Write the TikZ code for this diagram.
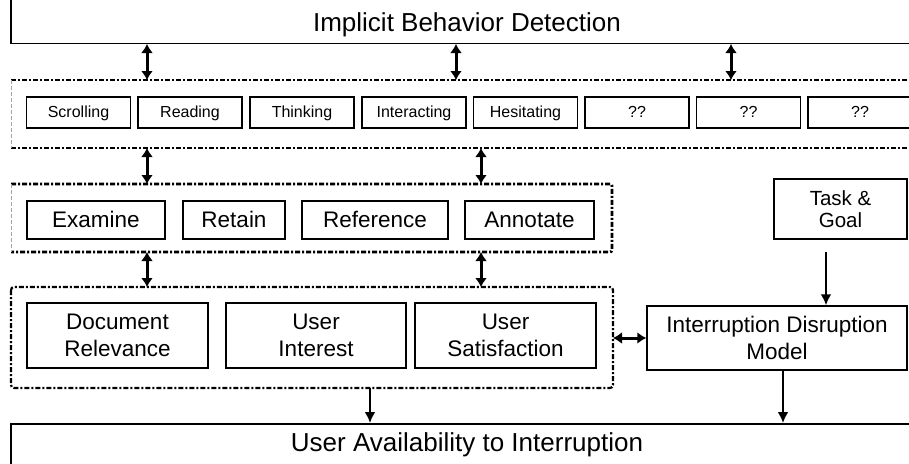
\documentclass[tikz,border=0pt]{standalone}
\usepackage{fontspec}
\setmainfont{Liberation Sans}
\usetikzlibrary{arrows.meta,calc}
\tikzset{
  sbox/.style={draw, line width=1.5pt, minimum width=104pt, minimum height=31pt, inner sep=0pt, text height=11.5pt, text depth=1.5pt, font=\fontsize{16}{18}\selectfont},
  abox/.style={draw, line width=1.5pt, minimum height=38pt, inner sep=0pt, text height=16.2pt, text depth=1.5pt, font=\fontsize{22.5}{26}\selectfont},
  rbox/.style={draw, line width=1.5pt, minimum height=65pt, inner sep=0pt, align=center, font=\fontsize{22.5}{27}\selectfont},
  bigbox/.style={draw, line width=1.5pt, inner sep=0pt},
  ghost/.style={inner sep=0pt, outer sep=0pt},
  ddline/.style={line width=2.8pt, dash pattern=on 5pt off 2pt on 2pt off 2pt},
  thinside/.style={line width=0.8pt, gray!70, dash pattern=on 4pt off 2pt},
  darrow/.style={line width=3pt, {Latex[length=9pt,width=12pt]}-{Latex[length=9pt,width=12pt]}},
  sarrow/.style={line width=2.4pt, -{Latex[length=11pt,width=11pt]}},
  bigtext/.style={font=\fontsize{26}{30}\selectfont}
}
\begin{document}
\begin{tikzpicture}[x=1pt,y=-1pt]
\useasboundingbox (0,0) rectangle (909,463);
\clip (0,0) rectangle (909,463);
\fill[white] (0,0) rectangle (909,463);

% top box
\node[bigbox, minimum width=912pt, minimum height=70pt, anchor=south] (ibd) at (467,44) {};
\node[bigtext] (ibdt) at (467,25) {Implicit Behavior Detection};

% behaviour container
\node[ghost, minimum width=920pt, minimum height=68pt, anchor=north west] (beh) at (11,80) {};
\draw[ddline] (beh.north west) -- (beh.north east);
\draw[ddline] (beh.south west) -- (beh.south east);
\draw[thinside] (beh.north west) -- (beh.south west);

\node[sbox] (scr) at (78.5,112.5) {Scrolling};
\node[sbox] (rea) at (190,112.5) {Reading};
\node[sbox] (thi) at (302,112.5) {Thinking};
\node[sbox] (int) at (414,112.5) {Interacting};
\node[sbox] (hes) at (525.5,112.5) {Hesitating};
\node[sbox] (q1) at (637,112.5) {??};
\node[sbox] (q2) at (748.5,112.5) {??};
\node[sbox] (q3) at (860,112.5) {??};

% activity container
\node[ghost, minimum width=601pt, minimum height=68pt, anchor=north west] (act) at (11,184) {};
\draw[ddline, rounded corners=2pt] (act.north west) -- (act.north east) -- (act.south east) -- (act.south west);
\draw[thinside] (act.north west) -- (act.south west);

\node[abox, minimum width=138pt] (exa) at (96,220) {Examine};
\node[abox, minimum width=102pt] (ret) at (234,220) {Retain};
\node[abox, minimum width=146pt] (ref) at (375,220) {Reference};
\node[abox, minimum width=129pt] (ann) at (529.5,220) {Annotate};

% relevance container
\node[ghost, minimum width=602pt, minimum height=101pt, anchor=north west] (rel) at (11,287) {};
\draw[ddline, line width=2.2pt, rounded corners=3pt] (rel.north west) rectangle (rel.south east);

\node[rbox, minimum width=181pt] (doc) at (117.5,335.5) {Document\\Relevance};
\node[rbox, minimum width=180pt] (uin) at (316,335.5) {User\\Interest};
\node[rbox, minimum width=181pt] (usa) at (505.5,335.5) {User\\Satisfaction};

% right side
\node[rbox, minimum width=133pt, minimum height=60pt, font=\fontsize{20.5}{22}\selectfont] (tg) at (840.5,209) {Task \&\\Goal};
\node[rbox, minimum width=260pt, minimum height=64pt] (idm) at (777,338) {Interruption Disruption\\Model};

% bottom box
\node[bigbox, minimum width=912pt, minimum height=80pt, anchor=north] (uai) at (467,423) {};
\node[bigtext] (uait) at (467,445) {User Availability to Interruption};

% connector x positions
\coordinate (xa) at (147,0);
\coordinate (xb) at (456,0);
\coordinate (xc) at (731,0);
\coordinate (xd) at (481,0);
\coordinate (xe) at (370,0);
\coordinate (xf) at (783,0);
\coordinate (xg) at (826,0);

\draw[darrow] (ibd.south -| xa) -- (beh.north -| xa);
\draw[darrow] (ibd.south -| xb) -- (beh.north -| xb);
\draw[darrow] (ibd.south -| xc) -- (beh.north -| xc);
\draw[darrow] (beh.south -| xa) -- (act.north -| xa);
\draw[darrow] (beh.south -| xd) -- (act.north -| xd);
\draw[darrow] (act.south -| xa) -- (rel.north -| xa);
\draw[darrow] (act.south -| xd) -- (rel.north -| xd);
\draw[darrow] (rel.east |- idm.west) -- (idm.west);
\draw[sarrow] ($(tg.south -| xg)+(0,12)$) -- (idm.north -| xg);
\draw[sarrow] (rel.south -| xe) -- (uai.north -| xe);
\draw[sarrow] (idm.south -| xf) -- (uai.north -| xf);
\end{tikzpicture}
\end{document}
